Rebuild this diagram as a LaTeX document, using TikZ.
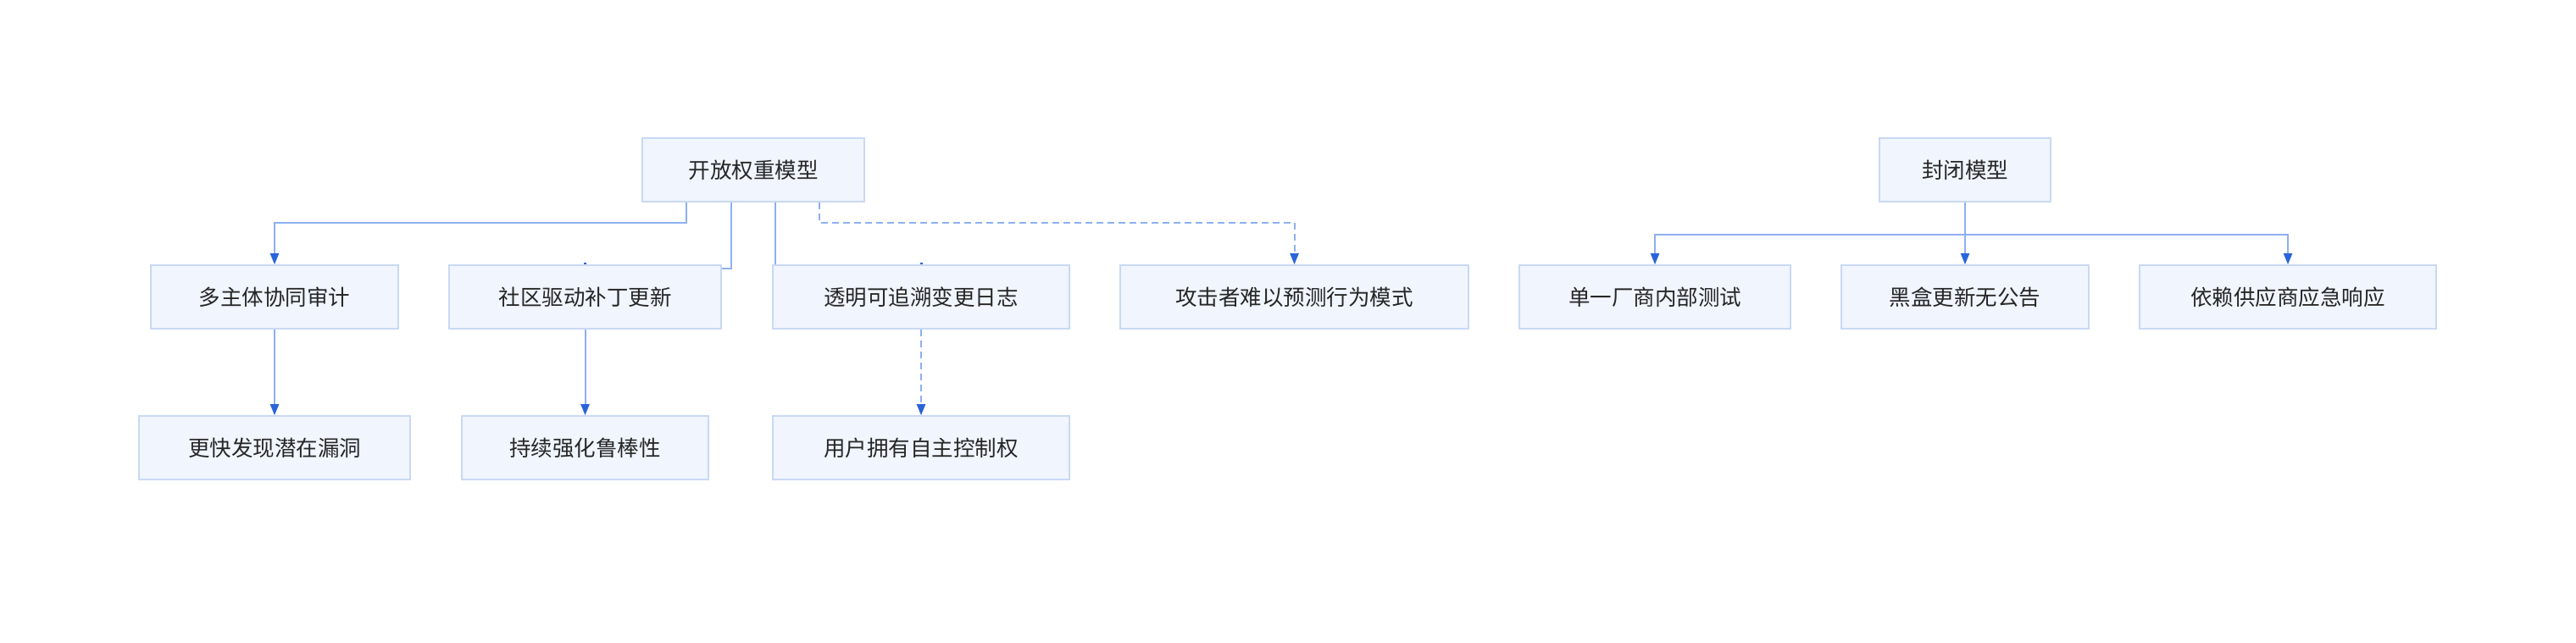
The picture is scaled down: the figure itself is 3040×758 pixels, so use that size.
\documentclass[tikz,border=0pt]{standalone}
\usepackage{fontspec}
\newfontfamily\cjk{Noto Sans CJK SC}
\usetikzlibrary{arrows.meta}
\definecolor{boxfill}{HTML}{F0F5FE}
\definecolor{boxborder}{HTML}{C9D9F3}
\definecolor{linkblue}{HTML}{8DB0F0}
\definecolor{tipblue}{HTML}{2A64DA}
\definecolor{txt}{HTML}{262626}
\tikzset{
  box/.style={draw=boxborder, fill=boxfill, line width=1.6pt, rectangle, inner sep=0pt,
    minimum height=75pt, text=txt, font=\cjk\fontsize{25.5}{30}\selectfont},
  link/.style={draw=linkblue, line width=2pt},
  tip/.style={-{Triangle[length=13pt,width=10pt,color=tipblue]}},
  dlink/.style={link, dash pattern=on 8pt off 5pt},
}
\begin{document}
\begin{tikzpicture}[x=1pt,y=-1pt]
\fill[white] (0,0) rectangle (3040,758);
\useasboundingbox (0,0) rectangle (3040,758);

\node[box, minimum width=262pt] (r1) at (889,200.5) {开放权重模型};
\node[box, minimum width=202pt] (r2) at (2319,200.5) {封闭模型};

\node[box, minimum width=292pt] (a1) at (324,350.5) {多主体协同审计};
\node[box, minimum width=321pt] (a2) at (690.5,350.5) {社区驱动补丁更新};
\node[box, minimum width=350pt] (a3) at (1087,350.5) {透明可追溯变更日志};
\node[box, minimum width=411pt] (a4) at (1527.5,350.5) {攻击者难以预测行为模式};
\node[box, minimum width=320pt] (b1) at (1953,350.5) {单一厂商内部测试};
\node[box, minimum width=292pt] (b2) at (2319,350.5) {黑盒更新无公告};
\node[box, minimum width=350pt] (b3) at (2700,350.5) {依赖供应商应急响应};

\node[box, minimum width=320pt] (c1) at (324,528.5) {更快发现潜在漏洞};
\node[box, minimum width=291pt] (c2) at (690.5,528.5) {持续强化鲁棒性};
\node[box, minimum width=350pt] (c3) at (1087,528.5) {用户拥有自主控制权};

% open model connectors
\draw[link, tip] ([xshift=-79pt]r1.south) -- ++(0,24) -| (a1.north);
\draw[link] ([xshift=-26pt]r1.south) |- ([yshift=-5pt]a2.north east);
\draw[link] ([xshift=26pt]r1.south) -- ([xshift=26pt]r1.south |- a3.north);
\draw[dlink, tip] ([xshift=78pt]r1.south) -- ++(0,24) -| (a4.north);
\fill[tipblue] ([xshift=-1.5pt]a2.north) rectangle ([xshift=1.5pt,yshift=2.5pt]a2.north);
\fill[tipblue] ([xshift=-1.5pt]a3.north) rectangle ([xshift=1.5pt,yshift=2.5pt]a3.north);

\draw[link, tip] (a1.south) -- (c1.north);
\draw[link, tip] (a2.south) -- (c2.north);
\draw[dlink, tip] (a3.south) -- (c3.north);

% closed model connectors
\coordinate (rj) at ([yshift=-38pt]r2.south);
\draw[link, tip] (r2.south) -- (rj) -| (b1.north);
\draw[link, tip] (rj) -| (b3.north);
\draw[link, tip] (r2.south) -- (b2.north);
\end{tikzpicture}
\end{document}
